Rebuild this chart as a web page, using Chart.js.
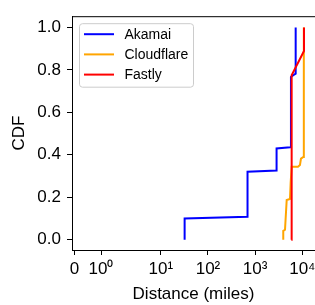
<!DOCTYPE html>
<html>
<head>
<meta charset="utf-8">
<script src="https://cdn.jsdelivr.net/npm/chart.js@4.4.1/dist/chart.umd.min.js"></script>
<style>
  html, body { margin: 0; padding: 0; background: #fff; overflow: hidden; }
  canvas { display: block; }
</style>
</head>
<body>
<canvas id="cdfChart" width="315" height="305"></canvas>
<script>
// values (distance in miles, CDF)
const akamaiDist = [32, 32, 690, 690, 2850, 2850, 5550, 5750, 6440, 7240, 7240];
const akamaiCdf  = [0, 0.10, 0.108, 0.32, 0.326, 0.43, 0.435, 0.767, 0.775, 0.782, 1.0];

const cloudflareDist = [3950, 3950, 4300, 4670, 5480, 5670, 5960, 8110, 8930, 9380, 10500, 10700, 10860];
const cloudflareCdf  = [0, 0.042, 0.047, 0.187, 0.192, 0.269, 0.344, 0.344, 0.352, 0.382, 0.39, 0.6, 1.0];

const fastlyDist = [5850, 5950, 10870, 10870];
const fastlyCdf  = [0, 0.775, 0.889, 1.0];

// x tick positions and their labels as printed on the reference axis
const xTickValues = [0.147, 0.54, 10, 100, 1000, 10000];
const xTickLabels = ['0', '10\u2070', '10\u00b9', '10\u00b2', '10\u00b3', '10\u2074'];
const yTickValues = [0, 0.2, 0.4, 0.6, 0.8, 1.0];

const FONT = "'Liberation Sans', Arial, Helvetica, sans-serif";

function toPoints(xs, ys) {
  return xs.map((x, i) => ({ x: x, y: ys[i] }));
}

// top spine (matplotlib box)
const topSpine = {
  id: 'topSpine',
  afterDraw(chart) {
    const { ctx, chartArea } = chart;
    ctx.save();
    ctx.strokeStyle = '#000';
    ctx.lineWidth = 1;
    ctx.beginPath();
    ctx.moveTo(chartArea.left, chartArea.top + 0.5);
    ctx.lineTo(chart.width, chartArea.top + 0.5);
    ctx.stroke();
    ctx.restore();
  }
};

// legend drawn inside the plot, upper left
const innerLegend = {
  id: 'innerLegend',
  afterDraw(chart) {
    const { ctx, chartArea } = chart;
    const x = chartArea.left + 7.5, y = chartArea.top + 7.5;
    const w = 114, h = 63.5, r = 3;
    ctx.save();
    ctx.beginPath();
    ctx.roundRect(x, y, w, h, r);
    ctx.fillStyle = 'rgba(255,255,255,0.8)';
    ctx.fill();
    ctx.strokeStyle = '#cccccc';
    ctx.lineWidth = 1;
    ctx.stroke();

    ctx.font = '14px ' + FONT;
    ctx.textBaseline = 'middle';
    ctx.textAlign = 'left';
    chart.data.datasets.forEach((ds, i) => {
      const rowY = y + 10.5 + i * 20.2;
      ctx.strokeStyle = ds.borderColor;
      ctx.lineWidth = 2;
      ctx.beginPath();
      ctx.moveTo(x + 4.5, rowY);
      ctx.lineTo(x + 34.5, rowY);
      ctx.stroke();
      ctx.fillStyle = '#000';
      ctx.fillText(ds.label, x + 45, rowY + 0.5);
    });
    ctx.restore();
  }
};

const ctx = document.getElementById('cdfChart').getContext('2d');

new Chart(ctx, {
  type: 'line',
  data: {
    datasets: [
      {
        label: 'Akamai',
        data: toPoints(akamaiDist, akamaiCdf),
        borderColor: '#0000ff',
        borderWidth: 2,
        pointRadius: 0,
        tension: 0,
        fill: false,
        order: 2,
      },
      {
        label: 'Cloudflare',
        data: toPoints(cloudflareDist, cloudflareCdf),
        borderColor: '#ffa500',
        borderWidth: 2,
        pointRadius: 0,
        tension: 0,
        fill: false,
        order: 1,
      },
      {
        label: 'Fastly',
        data: toPoints(fastlyDist, fastlyCdf),
        borderColor: '#ff0000',
        borderWidth: 2,
        pointRadius: 0,
        tension: 0,
        fill: false,
        order: 0,
      }
    ]
  },
  options: {
    responsive: false,
    animation: false,
    devicePixelRatio: 1,
    layout: { padding: { top: 7, right: 0, left: 0, bottom: 0 } },
    scales: {
      x: {
        type: 'logarithmic',
        min: 0.131,
        max: 18600,
        afterBuildTicks: (scale) => { scale.ticks = xTickValues.map(v => ({ value: v })); },
        afterFit: (scale) => {
          scale.height = 55;
          scale.paddingRight = 0;
          scale.paddingLeft = 0;
        },
        ticks: {
          autoSkip: false,
          maxRotation: 0,
          padding: 4,
          color: '#000',
          font: { family: FONT, size: 17 },
          callback: (val, idx) => xTickLabels[idx]
        },
        grid: { display: true, drawOnChartArea: false, drawTicks: true, tickLength: 5, color: '#000' },
        border: { display: true, color: '#000', width: 1 },
        title: {
          display: true,
          text: 'Distance (miles)',
          color: '#000',
          font: { family: FONT, size: 17 },
          padding: { top: 0, bottom: 0 }
        }
      },
      y: {
        type: 'linear',
        min: -0.0485,
        max: 1.053,
        afterBuildTicks: (scale) => { scale.ticks = yTickValues.map(v => ({ value: v })); },
        afterFit: (scale) => { scale.width = 72; },
        ticks: {
          padding: 6,
          color: '#000',
          font: { family: FONT, size: 17 },
          callback: (val) => val.toFixed(1)
        },
        grid: { display: true, drawOnChartArea: false, drawTicks: true, tickLength: 5, color: '#000' },
        border: { display: true, color: '#000', width: 1 },
        title: {
          display: true,
          text: 'CDF',
          color: '#000',
          font: { family: FONT, size: 17 },
          padding: { top: 9, bottom: 0 }
        }
      }
    },
    plugins: {
      legend: { display: false },
      tooltip: { enabled: false }
    }
  },
  plugins: [topSpine, innerLegend]
});
</script>
</body>
</html>
